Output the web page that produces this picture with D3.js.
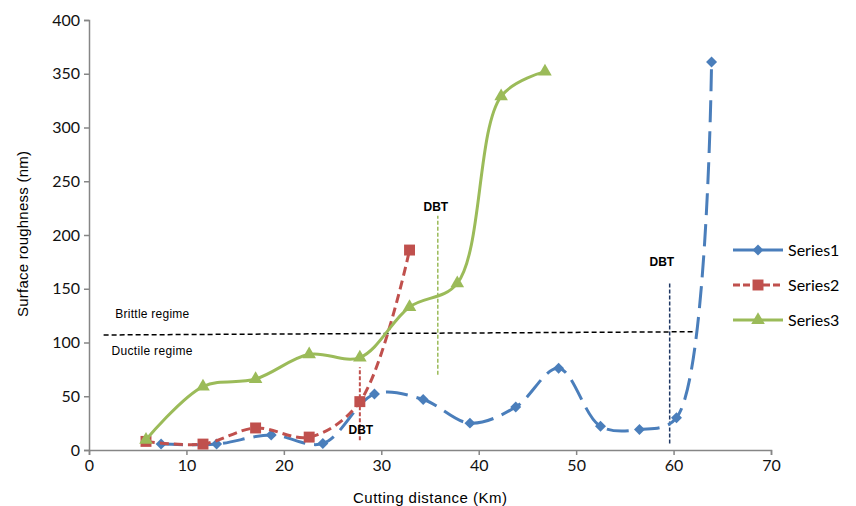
<!DOCTYPE html>
<html>
<head>
<meta charset="utf-8">
<script src="https://cdn.jsdelivr.net/npm/d3@7"></script>
<style>
  body { margin: 0; background: #fff; }
  .tick text { font-family: Lato, "Open Sans", sans-serif; font-size: 16px; fill: #111; }
</style>
</head>
<body>
<div id="chart"></div>
<script>
// values
const s1x = [7.4, 13.1, 18.7, 24.0, 29.3, 34.3, 39.1, 43.8, 48.2, 52.5, 56.5, 60.3, 63.9];
const s1y = [5.5, 5.5, 14, 6, 52, 47, 25, 40, 76, 22, 19, 30, 361];
const s2x = [5.85, 11.7, 17.1, 22.6, 27.8, 32.9];
const s2y = [8, 5.5, 20.5, 12, 45, 186];
const s3x = [5.85, 11.7, 17.1, 22.6, 27.8, 32.9, 37.8, 42.3, 46.8];
const s3y = [9.5, 59, 66, 89, 86, 133, 155, 329, 352];
const xTicks = [0, 10, 20, 30, 40, 50, 60, 70];
const yTicks = [0, 50, 100, 150, 200, 250, 300, 350, 400];
// DBT markers: x position, from / to (in nm)
const dbt = [
  {x: 27.8, y0: 9, y1: 77, color: "#c0504d", lx: 27.9, ly: 15, w: 2},
  {x: 35.8, y0: 70, y1: 218, color: "#9bbb59", lx: 35.6, ly: 222, w: 1.5},
  {x: 59.6, y0: 6, y1: 155, color: "#1f3864", lx: 58.8, ly: 171, w: 1.5}
];
const regime = {x0: 1.5, y0: 107, x1: 62.1, y1: 110};

const margin = {top: 20, right: 85, bottom: 56, left: 89},
    width = 771 - margin.left,
    height = 450 - margin.top;

const x = d3.scaleLinear().domain([0, 70]).range([0, width]);
const y = d3.scaleLinear().domain([0, 400]).range([height, 0]);

const svg = d3.select("#chart").append("svg")
    .attr("width", 856)
    .attr("height", 506)
    .append("g")
    .attr("transform", "translate(" + margin.left + "," + margin.top + ")");

const xAxis = svg.append("g")
    .attr("transform", "translate(0," + height + ")")
    .call(d3.axisBottom(x).tickValues(xTicks).tickSize(5).tickPadding(5));
const yAxis = svg.append("g")
    .call(d3.axisLeft(y).tickValues(yTicks).tickSize(5).tickPadding(4));
[xAxis, yAxis].forEach(a => {
  a.selectAll("path, line").attr("stroke", "#868686").attr("stroke-width", 1.5);
});

svg.append("text")
    .attr("x", width / 2)
    .attr("y", height + 53)
    .attr("text-anchor", "middle")
    .style("font-family", "'Liberation Sans', Arial, sans-serif")
    .style("font-size", "15px")
    .attr("textLength", 154)
    .text("Cutting distance (Km)");

svg.append("text")
    .attr("transform", "translate(" + (-61) + "," + (height / 2 - 1) + ") rotate(-90)")
    .attr("text-anchor", "middle")
    .style("font-family", "'Liberation Sans', Arial, sans-serif")
    .style("font-size", "15px")
    .attr("textLength", 166)
    .text("Surface roughness (nm)");

// regime boundary
svg.append("line")
    .attr("x1", x(regime.x0)).attr("y1", y(regime.y0))
    .attr("x2", x(regime.x1)).attr("y2", y(regime.y1))
    .attr("stroke", "#000").attr("stroke-width", 1.5)
    .attr("stroke-dasharray", "5,3");
svg.append("text")
    .attr("x", x(2.7)).attr("y", y(123))
    .style("font-family", "'Liberation Sans', Arial, sans-serif")
    .style("font-size", "12px")
    .attr("textLength", 74)
    .text("Brittle regime");
svg.append("text")
    .attr("x", x(2.3)).attr("y", y(88))
    .style("font-family", "'Liberation Sans', Arial, sans-serif")
    .style("font-size", "12px")
    .attr("textLength", 81)
    .text("Ductile regime");

dbt.forEach(d => {
  svg.append("line")
      .attr("x1", x(d.x)).attr("x2", x(d.x))
      .attr("y1", y(d.y0)).attr("y2", y(d.y1))
      .attr("stroke", d.color).attr("stroke-width", d.w)
      .attr("stroke-dasharray", "4,2");
  svg.append("text")
      .attr("x", x(d.lx)).attr("y", y(d.ly))
      .attr("text-anchor", "middle")
      .style("font-family", "'Liberation Sans', Arial, sans-serif")
      .style("font-size", "12px")
      .style("font-weight", "bold")
      .text("DBT");
});

const series = [
  {name: "Series1", xs: s1x, ys: s1y, color: "#4a7ebb", dash: "22,9", shape: d3.symbolSquare, rot: 45, size: 60},
  {name: "Series2", xs: s2x, ys: s2y, color: "#c0504d", dash: "9,5", shape: d3.symbolSquare, rot: 0, size: 120},
  {name: "Series3", xs: s3x, ys: s3y, color: "#9bbb59", dash: null, shape: d3.symbolTriangle, rot: 0, size: 80}
];

const line = d3.line()
    .x(d => x(d[0]))
    .y(d => y(d[1]))
    .curve(d3.curveCatmullRom.alpha(0.5));

series.forEach(s => {
  const pts = s.xs.map((v, i) => [v, s.ys[i]]);
  svg.append("path")
      .datum(pts)
      .attr("fill", "none")
      .attr("stroke", s.color)
      .attr("stroke-width", 3)
      .attr("stroke-dasharray", s.dash)
      .attr("d", line);
  svg.selectAll(".pt-" + s.name)
      .data(pts)
      .enter().append("path")
      .attr("transform", d => "translate(" + x(d[0]) + "," + y(d[1]) + ") rotate(" + s.rot + ")")
      .attr("d", d3.symbol().type(s.shape).size(s.size))
      .attr("fill", s.color);
});

// legend
const legend = svg.append("g")
    .attr("transform", "translate(" + (733 - margin.left) + "," + (250 - margin.top) + ")");
series.forEach((s, i) => {
  const g = legend.append("g").attr("transform", "translate(0," + i * 35 + ")");
  g.append("line")
      .attr("x1", 0).attr("x2", 50)
      .attr("stroke", s.color).attr("stroke-width", 3)
      .attr("stroke-dasharray", s.dash ? (i === 0 ? "25,4" : "7,3") : null);
  g.append("path")
      .attr("transform", "translate(25,0) rotate(" + s.rot + ")")
      .attr("d", d3.symbol().type(s.shape).size(s.size))
      .attr("fill", s.color);
  g.append("text")
      .attr("x", 55).attr("y", 0).attr("dy", "0.35em")
      .style("font-family", "Lato, 'Open Sans', sans-serif")
      .style("font-size", "16px")
      .text(s.name);
});
</script>
</body>
</html>
